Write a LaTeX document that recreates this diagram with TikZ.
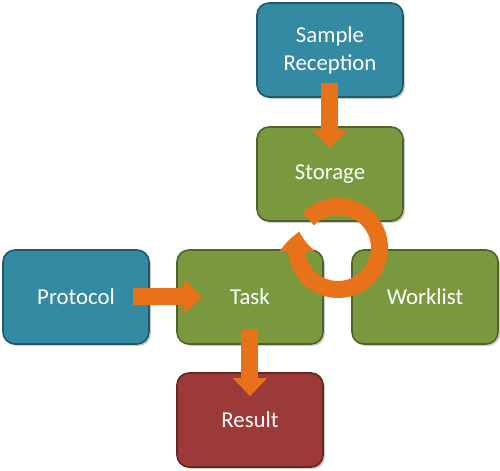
\documentclass[tikz,border=0pt]{standalone}
\usepackage{fontspec}
\setmainfont{Carlito}
\usetikzlibrary{arrows.meta,bending,shadows}
\definecolor{boxblue}{RGB}{52,137,163}
\definecolor{boxgreen}{RGB}{122,153,62}
\definecolor{boxred}{RGB}{155,58,56}
\definecolor{floworange}{RGB}{232,114,26}
\tikzset{
    stage/.style={rectangle,rounded corners=6pt,minimum width=73pt,minimum height=47pt,
        align=center,text=white,font=\fontsize{11.4}{14}\selectfont,line width=0.8pt,
        drop shadow={opacity=0.4,shadow xshift=1pt,shadow yshift=-1pt}},
    bluestage/.style={stage,fill=boxblue,draw=boxblue!65!black},
    greenstage/.style={stage,fill=boxgreen,draw=boxgreen!65!black},
    redstage/.style={stage,fill=boxred,draw=boxred!65!black},
    flow/.style={-{Triangle[width=16.5pt,length=9pt]},line width=8.5pt,draw=floworange},
    turn/.style={-{Triangle[width=17pt,length=10pt,bend]},line width=8.5pt,draw=floworange}
}

\begin{document}
\begin{tikzpicture}[x=0.5pt,y=0.5pt]
\useasboundingbox (0,0) rectangle (500,471);
\node[bluestage] (sample) at (330,421) {Sample\\Reception};
\node[greenstage] (storage) at (330,297) {Storage};
\node[bluestage] (protocol) at (76,174) {Protocol};
\node[greenstage] (task) at (250,174) {Task};
\node[greenstage] (worklist) at (425,174) {Worklist};
\node[redstage] (result) at (250,51) {Result};
\coordinate (hub) at (338,223);

\draw[flow] ([yshift=7.5pt]sample.south) -- ([yshift=-11pt]storage.north);
\draw[flow] ([xshift=-8.5pt]protocol.east) -- ([xshift=13pt]task.west);
\draw[flow] ([yshift=8pt]task.south) -- ([yshift=-12pt]result.north);
\draw[turn] ([shift={(136:41.5)}]hub) arc[start angle=136,end angle=-203,radius=41.5];

\end{tikzpicture}
\end{document}
